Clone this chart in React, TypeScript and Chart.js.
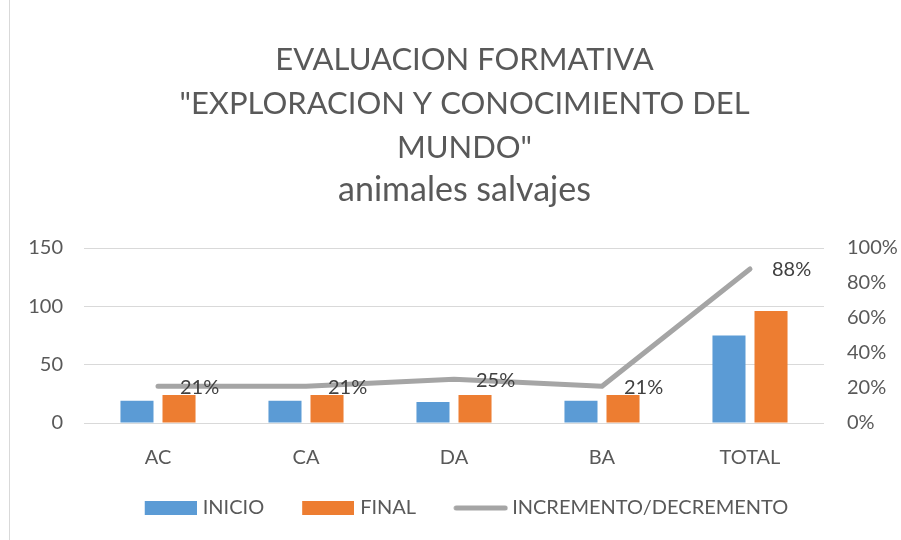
import React, { useEffect, useRef } from "react";
import { Chart, registerables } from "chart.js";

Chart.register(...registerables);

const categories = ["AC", "CA", "DA", "BA", "TOTAL"];
const inicio = [19, 19, 18, 19, 75];
const finalValues = [24, 24, 24, 24, 96];
const incremento = [0.21, 0.21, 0.25, 0.21, 0.88];
const seriesNames = ["INICIO", "FINAL", "INCREMENTO/DECREMENTO"];
const titleLines = [
  "EVALUACION FORMATIVA",
  "\"EXPLORACION Y CONOCIMIENTO DEL",
  "MUNDO\"",
];
const subtitleText = "animales salvajes";

const BLUE = "#5B9BD5";
const ORANGE = "#ED7D31";
const GRAY = "#A5A5A5";
const TEXT = "#595959";
const FONT = "Lato";

const LEG_PAD = 13;
const LEG_W = 73;

function makeBoxImage(color: string) {
  const w = LEG_W + 8;
  const c = document.createElement("canvas");
  c.width = w;
  c.height = 14;
  const ctx = c.getContext("2d")!;
  ctx.fillStyle = color;
  ctx.fillRect(w - 52, 0, 52, 14);
  return c;
}

function makeLineImage(color: string) {
  const w = LEG_W + 12;
  const c = document.createElement("canvas");
  c.width = w;
  c.height = 14;
  const ctx = c.getContext("2d")!;
  ctx.strokeStyle = color;
  ctx.lineWidth = 5;
  ctx.lineCap = "round";
  ctx.beginPath();
  ctx.moveTo(w - 55 + 3, 7);
  ctx.lineTo(w - 3, 7);
  ctx.stroke();
  return c;
}

const lineLabels = {
  id: "lineLabels",
  afterDatasetsDraw(chart: any) {
    const meta = chart.getDatasetMeta(2);
    const ctx = chart.ctx;
    ctx.save();
    ctx.font = `20px ${FONT}`;
    ctx.fillStyle = "#404040";
    ctx.textAlign = "left";
    ctx.textBaseline = "middle";
    meta.data.forEach((pt: any, i: number) => {
      ctx.fillText(Math.round(incremento[i] * 100) + "%", pt.x + 22, pt.y + 1);
    });
    ctx.restore();
  },
};

export default function App() {
  const ref = useRef<HTMLCanvasElement | null>(null);

  useEffect(() => {
    if (!ref.current) return;
    const imgs = [makeBoxImage(BLUE), makeBoxImage(ORANGE), makeLineImage(GRAY)];
    const chart = new Chart(ref.current, {
      type: "bar",
      data: {
        labels: categories,
        datasets: [
          {
            type: "bar",
            label: seriesNames[0],
            data: inicio,
            backgroundColor: BLUE,
            yAxisID: "y",
            order: 1,
            categoryPercentage: 0.568,
            barPercentage: 0.786,
          },
          {
            type: "bar",
            label: seriesNames[1],
            data: finalValues,
            backgroundColor: ORANGE,
            yAxisID: "y",
            order: 1,
            categoryPercentage: 0.568,
            barPercentage: 0.786,
          },
          {
            type: "line",
            label: seriesNames[2],
            data: incremento,
            borderColor: GRAY,
            backgroundColor: GRAY,
            borderWidth: 5,
            borderCapStyle: "round",
            borderJoinStyle: "round",
            pointRadius: 0,
            tension: 0,
            yAxisID: "y1",
            order: 0,
          },
        ],
      } as any,
      options: {
        responsive: false,
        animation: false,
        layout: { padding: { left: 28, right: 0, top: 0, bottom: 12 } },
        plugins: {
          tooltip: { enabled: false },
          title: {
            display: true,
            text: titleLines,
            color: TEXT,
            font: { family: FONT, size: 31, weight: "normal", lineHeight: 44 / 31 },
            padding: { top: 38, bottom: 0 },
          },
          subtitle: {
            display: true,
            text: subtitleText,
            color: TEXT,
            font: { family: FONT, size: 34, weight: "normal", lineHeight: 40 / 34 },
            padding: { top: 0, bottom: 38 },
          },
          legend: {
            position: "bottom",
            fullSize: false,
            labels: {
              color: TEXT,
              font: { family: FONT, size: 20 },
              usePointStyle: true,
              pointStyleWidth: LEG_W,
              boxHeight: 14,
              padding: LEG_PAD,
              generateLabels: (ch: any) => {
                const items = (Chart.defaults.plugins.legend.labels as any).generateLabels(ch);
                items.sort((a: any, b: any) => a.datasetIndex - b.datasetIndex);
                items.forEach((it: any) => {
                  it.pointStyle = imgs[it.datasetIndex];
                  it.lineWidth = 0;
                });
                return items;
              },
            },
          },
        },
        scales: {
          x: {
            grid: { display: false },
            border: { display: false },
            ticks: { color: TEXT, font: { family: FONT, size: 20 }, padding: 15 },
          },
          y: {
            position: "left",
            min: 0,
            max: 150,
            grid: { color: "#D9D9D9", lineWidth: 1, drawTicks: false },
            border: { display: false },
            ticks: { stepSize: 50, color: TEXT, font: { family: FONT, size: 20 }, padding: 21 },
            afterFit: (s: any) => {
              s.width = 56;
            },
          },
          y1: {
            position: "right",
            min: 0,
            max: 1,
            grid: { display: false, drawTicks: false },
            border: { display: false },
            ticks: {
              stepSize: 0.2,
              color: TEXT,
              font: { family: FONT, size: 20 },
              padding: 23,
              callback: (v: any) => Math.round(Number(v) * 100) + "%",
            },
            afterFit: (s: any) => {
              s.width = 77;
            },
          },
        },
      } as any,
      plugins: [lineLabels],
    });
    return () => chart.destroy();
  }, []);

  return (
    <div style={{ position: "fixed", left: 0, top: 0, width: 901, height: 540, background: "#fff" }}>
      <canvas ref={ref} width={901} height={540} style={{ display: "block" }} />
      <div style={{ position: "absolute", left: 9, top: 0, width: 1, height: 540, background: "#D9D9D9" }} />
    </div>
  );
}
